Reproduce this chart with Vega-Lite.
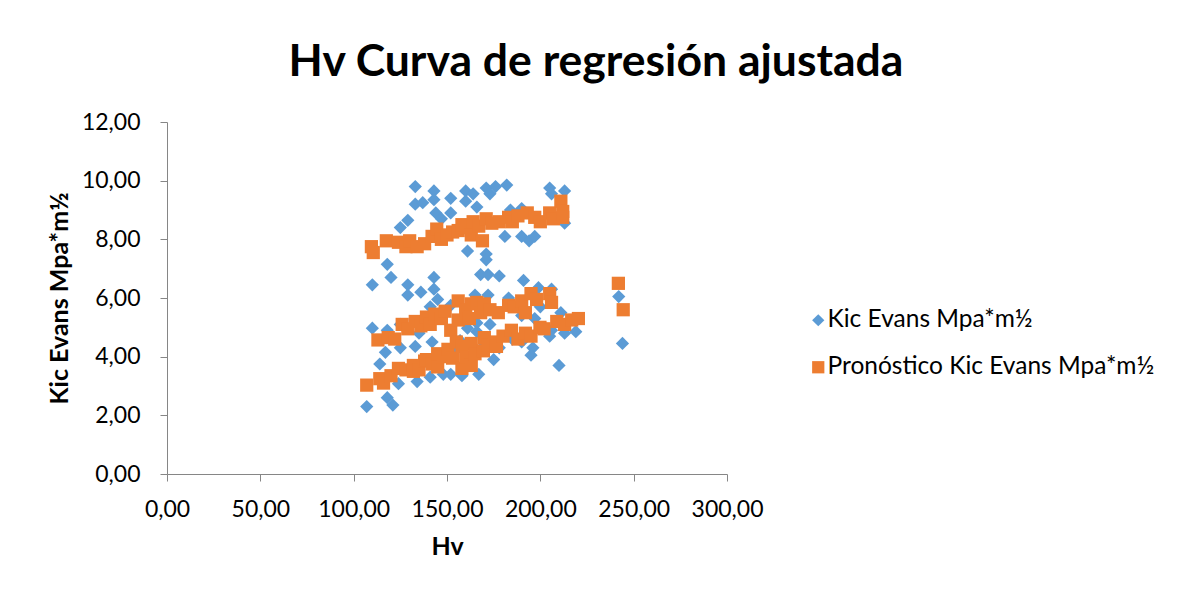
{
  "$schema": "https://vega.github.io/schema/vega-lite/v6.json",
  "width": 560,
  "height": 352,
  "autosize": {"type": "none"},
  "padding": {"left": 167, "top": 122, "right": 456, "bottom": 116},
  "background": "white",
  "title": {
    "text": "Hv Curva de regresión ajustada",
    "font": "Lato",
    "fontSize": 44.5,
    "fontWeight": "bold",
    "color": "black",
    "anchor": "middle",
    "dx": 149,
    "baseline": "alphabetic",
    "offset": -9
  },
  "data": {
    "values": [
      {"Hv": 133, "Kic": 9.8, "serie": "Kic Evans Mpa*m½"},
      {"Hv": 143, "Kic": 9.65, "serie": "Kic Evans Mpa*m½"},
      {"Hv": 143, "Kic": 9.35, "serie": "Kic Evans Mpa*m½"},
      {"Hv": 133, "Kic": 9.2, "serie": "Kic Evans Mpa*m½"},
      {"Hv": 137, "Kic": 9.25, "serie": "Kic Evans Mpa*m½"},
      {"Hv": 152, "Kic": 9.4, "serie": "Kic Evans Mpa*m½"},
      {"Hv": 160, "Kic": 9.65, "serie": "Kic Evans Mpa*m½"},
      {"Hv": 164, "Kic": 9.55, "serie": "Kic Evans Mpa*m½"},
      {"Hv": 160, "Kic": 9.3, "serie": "Kic Evans Mpa*m½"},
      {"Hv": 166, "Kic": 9.1, "serie": "Kic Evans Mpa*m½"},
      {"Hv": 144, "Kic": 8.9, "serie": "Kic Evans Mpa*m½"},
      {"Hv": 152, "Kic": 8.9, "serie": "Kic Evans Mpa*m½"},
      {"Hv": 129, "Kic": 8.65, "serie": "Kic Evans Mpa*m½"},
      {"Hv": 125, "Kic": 8.4, "serie": "Kic Evans Mpa*m½"},
      {"Hv": 147, "Kic": 8.7, "serie": "Kic Evans Mpa*m½"},
      {"Hv": 161, "Kic": 7.6, "serie": "Kic Evans Mpa*m½"},
      {"Hv": 171, "Kic": 9.75, "serie": "Kic Evans Mpa*m½"},
      {"Hv": 176, "Kic": 9.8, "serie": "Kic Evans Mpa*m½"},
      {"Hv": 182, "Kic": 9.85, "serie": "Kic Evans Mpa*m½"},
      {"Hv": 173, "Kic": 9.55, "serie": "Kic Evans Mpa*m½"},
      {"Hv": 205, "Kic": 9.75, "serie": "Kic Evans Mpa*m½"},
      {"Hv": 213, "Kic": 9.65, "serie": "Kic Evans Mpa*m½"},
      {"Hv": 206, "Kic": 9.55, "serie": "Kic Evans Mpa*m½"},
      {"Hv": 184, "Kic": 9.0, "serie": "Kic Evans Mpa*m½"},
      {"Hv": 190, "Kic": 9.05, "serie": "Kic Evans Mpa*m½"},
      {"Hv": 213, "Kic": 8.55, "serie": "Kic Evans Mpa*m½"},
      {"Hv": 181, "Kic": 8.1, "serie": "Kic Evans Mpa*m½"},
      {"Hv": 190, "Kic": 8.1, "serie": "Kic Evans Mpa*m½"},
      {"Hv": 194, "Kic": 7.95, "serie": "Kic Evans Mpa*m½"},
      {"Hv": 197, "Kic": 8.1, "serie": "Kic Evans Mpa*m½"},
      {"Hv": 171, "Kic": 7.5, "serie": "Kic Evans Mpa*m½"},
      {"Hv": 171, "Kic": 7.3, "serie": "Kic Evans Mpa*m½"},
      {"Hv": 168, "Kic": 6.8, "serie": "Kic Evans Mpa*m½"},
      {"Hv": 172, "Kic": 6.8, "serie": "Kic Evans Mpa*m½"},
      {"Hv": 178, "Kic": 6.75, "serie": "Kic Evans Mpa*m½"},
      {"Hv": 191, "Kic": 6.6, "serie": "Kic Evans Mpa*m½"},
      {"Hv": 199, "Kic": 6.35, "serie": "Kic Evans Mpa*m½"},
      {"Hv": 206, "Kic": 6.3, "serie": "Kic Evans Mpa*m½"},
      {"Hv": 118, "Kic": 7.15, "serie": "Kic Evans Mpa*m½"},
      {"Hv": 120, "Kic": 6.7, "serie": "Kic Evans Mpa*m½"},
      {"Hv": 110, "Kic": 6.45, "serie": "Kic Evans Mpa*m½"},
      {"Hv": 129, "Kic": 6.45, "serie": "Kic Evans Mpa*m½"},
      {"Hv": 129, "Kic": 6.1, "serie": "Kic Evans Mpa*m½"},
      {"Hv": 136, "Kic": 6.2, "serie": "Kic Evans Mpa*m½"},
      {"Hv": 143, "Kic": 6.7, "serie": "Kic Evans Mpa*m½"},
      {"Hv": 143, "Kic": 6.3, "serie": "Kic Evans Mpa*m½"},
      {"Hv": 145, "Kic": 5.95, "serie": "Kic Evans Mpa*m½"},
      {"Hv": 141, "Kic": 5.7, "serie": "Kic Evans Mpa*m½"},
      {"Hv": 152, "Kic": 5.75, "serie": "Kic Evans Mpa*m½"},
      {"Hv": 165, "Kic": 6.1, "serie": "Kic Evans Mpa*m½"},
      {"Hv": 168, "Kic": 5.75, "serie": "Kic Evans Mpa*m½"},
      {"Hv": 110, "Kic": 4.97, "serie": "Kic Evans Mpa*m½"},
      {"Hv": 118, "Kic": 4.9, "serie": "Kic Evans Mpa*m½"},
      {"Hv": 125, "Kic": 5.1, "serie": "Kic Evans Mpa*m½"},
      {"Hv": 117, "Kic": 4.15, "serie": "Kic Evans Mpa*m½"},
      {"Hv": 125, "Kic": 4.3, "serie": "Kic Evans Mpa*m½"},
      {"Hv": 133, "Kic": 4.35, "serie": "Kic Evans Mpa*m½"},
      {"Hv": 114, "Kic": 3.75, "serie": "Kic Evans Mpa*m½"},
      {"Hv": 124, "Kic": 3.08, "serie": "Kic Evans Mpa*m½"},
      {"Hv": 134, "Kic": 3.15, "serie": "Kic Evans Mpa*m½"},
      {"Hv": 141, "Kic": 3.3, "serie": "Kic Evans Mpa*m½"},
      {"Hv": 148, "Kic": 3.4, "serie": "Kic Evans Mpa*m½"},
      {"Hv": 152, "Kic": 3.4, "serie": "Kic Evans Mpa*m½"},
      {"Hv": 158, "Kic": 3.35, "serie": "Kic Evans Mpa*m½"},
      {"Hv": 167, "Kic": 3.4, "serie": "Kic Evans Mpa*m½"},
      {"Hv": 118, "Kic": 2.6, "serie": "Kic Evans Mpa*m½"},
      {"Hv": 121, "Kic": 2.35, "serie": "Kic Evans Mpa*m½"},
      {"Hv": 107, "Kic": 2.3, "serie": "Kic Evans Mpa*m½"},
      {"Hv": 142, "Kic": 4.5, "serie": "Kic Evans Mpa*m½"},
      {"Hv": 161, "Kic": 4.97, "serie": "Kic Evans Mpa*m½"},
      {"Hv": 166, "Kic": 4.85, "serie": "Kic Evans Mpa*m½"},
      {"Hv": 172, "Kic": 6.1, "serie": "Kic Evans Mpa*m½"},
      {"Hv": 183, "Kic": 6.0, "serie": "Kic Evans Mpa*m½"},
      {"Hv": 190, "Kic": 5.4, "serie": "Kic Evans Mpa*m½"},
      {"Hv": 197, "Kic": 5.3, "serie": "Kic Evans Mpa*m½"},
      {"Hv": 173, "Kic": 5.1, "serie": "Kic Evans Mpa*m½"},
      {"Hv": 166, "Kic": 5.15, "serie": "Kic Evans Mpa*m½"},
      {"Hv": 190, "Kic": 4.5, "serie": "Kic Evans Mpa*m½"},
      {"Hv": 196, "Kic": 4.3, "serie": "Kic Evans Mpa*m½"},
      {"Hv": 206, "Kic": 4.9, "serie": "Kic Evans Mpa*m½"},
      {"Hv": 213, "Kic": 4.8, "serie": "Kic Evans Mpa*m½"},
      {"Hv": 219, "Kic": 4.85, "serie": "Kic Evans Mpa*m½"},
      {"Hv": 210, "Kic": 3.7, "serie": "Kic Evans Mpa*m½"},
      {"Hv": 242, "Kic": 6.05, "serie": "Kic Evans Mpa*m½"},
      {"Hv": 244, "Kic": 4.45, "serie": "Kic Evans Mpa*m½"},
      {"Hv": 168, "Kic": 4.25, "serie": "Kic Evans Mpa*m½"},
      {"Hv": 178, "Kic": 4.3, "serie": "Kic Evans Mpa*m½"},
      {"Hv": 185, "Kic": 4.6, "serie": "Kic Evans Mpa*m½"},
      {"Hv": 153, "Kic": 4.2, "serie": "Kic Evans Mpa*m½"},
      {"Hv": 147, "Kic": 4.05, "serie": "Kic Evans Mpa*m½"},
      {"Hv": 162, "Kic": 3.7, "serie": "Kic Evans Mpa*m½"},
      {"Hv": 157, "Kic": 4.55, "serie": "Kic Evans Mpa*m½"},
      {"Hv": 135, "Kic": 4.8, "serie": "Kic Evans Mpa*m½"},
      {"Hv": 140, "Kic": 3.8, "serie": "Kic Evans Mpa*m½"},
      {"Hv": 175, "Kic": 3.9, "serie": "Kic Evans Mpa*m½"},
      {"Hv": 200, "Kic": 5.7, "serie": "Kic Evans Mpa*m½"},
      {"Hv": 211, "Kic": 5.5, "serie": "Kic Evans Mpa*m½"},
      {"Hv": 195, "Kic": 4.05, "serie": "Kic Evans Mpa*m½"},
      {"Hv": 205, "Kic": 4.7, "serie": "Kic Evans Mpa*m½"},
      {"Hv": 109.5, "Kic": 7.75, "serie": "Pronóstico Kic Evans Mpa*m½"},
      {"Hv": 110.5, "Kic": 7.55, "serie": "Pronóstico Kic Evans Mpa*m½"},
      {"Hv": 117.5, "Kic": 7.95, "serie": "Pronóstico Kic Evans Mpa*m½"},
      {"Hv": 124, "Kic": 7.9, "serie": "Pronóstico Kic Evans Mpa*m½"},
      {"Hv": 128, "Kic": 7.75, "serie": "Pronóstico Kic Evans Mpa*m½"},
      {"Hv": 130, "Kic": 7.95, "serie": "Pronóstico Kic Evans Mpa*m½"},
      {"Hv": 134, "Kic": 7.75, "serie": "Pronóstico Kic Evans Mpa*m½"},
      {"Hv": 138, "Kic": 7.85, "serie": "Pronóstico Kic Evans Mpa*m½"},
      {"Hv": 142, "Kic": 8.1, "serie": "Pronóstico Kic Evans Mpa*m½"},
      {"Hv": 144.5, "Kic": 8.35, "serie": "Pronóstico Kic Evans Mpa*m½"},
      {"Hv": 147, "Kic": 8.0, "serie": "Pronóstico Kic Evans Mpa*m½"},
      {"Hv": 150, "Kic": 8.15, "serie": "Pronóstico Kic Evans Mpa*m½"},
      {"Hv": 153, "Kic": 8.25, "serie": "Pronóstico Kic Evans Mpa*m½"},
      {"Hv": 156, "Kic": 8.3, "serie": "Pronóstico Kic Evans Mpa*m½"},
      {"Hv": 158, "Kic": 8.5, "serie": "Pronóstico Kic Evans Mpa*m½"},
      {"Hv": 161, "Kic": 8.4, "serie": "Pronóstico Kic Evans Mpa*m½"},
      {"Hv": 164, "Kic": 8.6, "serie": "Pronóstico Kic Evans Mpa*m½"},
      {"Hv": 163, "Kic": 8.15, "serie": "Pronóstico Kic Evans Mpa*m½"},
      {"Hv": 167, "Kic": 8.45, "serie": "Pronóstico Kic Evans Mpa*m½"},
      {"Hv": 169, "Kic": 7.95, "serie": "Pronóstico Kic Evans Mpa*m½"},
      {"Hv": 171, "Kic": 8.7, "serie": "Pronóstico Kic Evans Mpa*m½"},
      {"Hv": 174, "Kic": 8.55, "serie": "Pronóstico Kic Evans Mpa*m½"},
      {"Hv": 178, "Kic": 8.6, "serie": "Pronóstico Kic Evans Mpa*m½"},
      {"Hv": 183, "Kic": 8.75, "serie": "Pronóstico Kic Evans Mpa*m½"},
      {"Hv": 185, "Kic": 8.6, "serie": "Pronóstico Kic Evans Mpa*m½"},
      {"Hv": 188, "Kic": 8.8, "serie": "Pronóstico Kic Evans Mpa*m½"},
      {"Hv": 193, "Kic": 8.9, "serie": "Pronóstico Kic Evans Mpa*m½"},
      {"Hv": 197, "Kic": 8.75, "serie": "Pronóstico Kic Evans Mpa*m½"},
      {"Hv": 200, "Kic": 8.6, "serie": "Pronóstico Kic Evans Mpa*m½"},
      {"Hv": 205, "Kic": 8.9, "serie": "Pronóstico Kic Evans Mpa*m½"},
      {"Hv": 207, "Kic": 8.7, "serie": "Pronóstico Kic Evans Mpa*m½"},
      {"Hv": 211, "Kic": 9.3, "serie": "Pronóstico Kic Evans Mpa*m½"},
      {"Hv": 212, "Kic": 8.95, "serie": "Pronóstico Kic Evans Mpa*m½"},
      {"Hv": 212, "Kic": 8.75, "serie": "Pronóstico Kic Evans Mpa*m½"},
      {"Hv": 113, "Kic": 4.57, "serie": "Pronóstico Kic Evans Mpa*m½"},
      {"Hv": 118.5, "Kic": 4.65, "serie": "Pronóstico Kic Evans Mpa*m½"},
      {"Hv": 122, "Kic": 4.6, "serie": "Pronóstico Kic Evans Mpa*m½"},
      {"Hv": 126, "Kic": 5.1, "serie": "Pronóstico Kic Evans Mpa*m½"},
      {"Hv": 129, "Kic": 4.95, "serie": "Pronóstico Kic Evans Mpa*m½"},
      {"Hv": 133, "Kic": 5.2, "serie": "Pronóstico Kic Evans Mpa*m½"},
      {"Hv": 136, "Kic": 5.05, "serie": "Pronóstico Kic Evans Mpa*m½"},
      {"Hv": 139, "Kic": 5.35, "serie": "Pronóstico Kic Evans Mpa*m½"},
      {"Hv": 141, "Kic": 5.1, "serie": "Pronóstico Kic Evans Mpa*m½"},
      {"Hv": 143.5, "Kic": 5.45, "serie": "Pronóstico Kic Evans Mpa*m½"},
      {"Hv": 147, "Kic": 5.3, "serie": "Pronóstico Kic Evans Mpa*m½"},
      {"Hv": 149, "Kic": 5.55, "serie": "Pronóstico Kic Evans Mpa*m½"},
      {"Hv": 152, "Kic": 4.9, "serie": "Pronóstico Kic Evans Mpa*m½"},
      {"Hv": 156, "Kic": 5.25, "serie": "Pronóstico Kic Evans Mpa*m½"},
      {"Hv": 156, "Kic": 5.9, "serie": "Pronóstico Kic Evans Mpa*m½"},
      {"Hv": 160, "Kic": 5.6, "serie": "Pronóstico Kic Evans Mpa*m½"},
      {"Hv": 162, "Kic": 5.3, "serie": "Pronóstico Kic Evans Mpa*m½"},
      {"Hv": 163, "Kic": 5.8, "serie": "Pronóstico Kic Evans Mpa*m½"},
      {"Hv": 166, "Kic": 5.85, "serie": "Pronóstico Kic Evans Mpa*m½"},
      {"Hv": 168, "Kic": 5.5, "serie": "Pronóstico Kic Evans Mpa*m½"},
      {"Hv": 170, "Kic": 5.8, "serie": "Pronóstico Kic Evans Mpa*m½"},
      {"Hv": 173, "Kic": 5.6, "serie": "Pronóstico Kic Evans Mpa*m½"},
      {"Hv": 177.5, "Kic": 5.5, "serie": "Pronóstico Kic Evans Mpa*m½"},
      {"Hv": 183, "Kic": 5.75, "serie": "Pronóstico Kic Evans Mpa*m½"},
      {"Hv": 186, "Kic": 5.7, "serie": "Pronóstico Kic Evans Mpa*m½"},
      {"Hv": 190, "Kic": 5.9, "serie": "Pronóstico Kic Evans Mpa*m½"},
      {"Hv": 192, "Kic": 5.5, "serie": "Pronóstico Kic Evans Mpa*m½"},
      {"Hv": 195, "Kic": 6.15, "serie": "Pronóstico Kic Evans Mpa*m½"},
      {"Hv": 198, "Kic": 5.95, "serie": "Pronóstico Kic Evans Mpa*m½"},
      {"Hv": 205, "Kic": 6.15, "serie": "Pronóstico Kic Evans Mpa*m½"},
      {"Hv": 206, "Kic": 5.85, "serie": "Pronóstico Kic Evans Mpa*m½"},
      {"Hv": 241.8, "Kic": 6.5, "serie": "Pronóstico Kic Evans Mpa*m½"},
      {"Hv": 107, "Kic": 3.03, "serie": "Pronóstico Kic Evans Mpa*m½"},
      {"Hv": 114, "Kic": 3.25, "serie": "Pronóstico Kic Evans Mpa*m½"},
      {"Hv": 116, "Kic": 3.1, "serie": "Pronóstico Kic Evans Mpa*m½"},
      {"Hv": 120, "Kic": 3.35, "serie": "Pronóstico Kic Evans Mpa*m½"},
      {"Hv": 124, "Kic": 3.6, "serie": "Pronóstico Kic Evans Mpa*m½"},
      {"Hv": 128, "Kic": 3.55, "serie": "Pronóstico Kic Evans Mpa*m½"},
      {"Hv": 132, "Kic": 3.7, "serie": "Pronóstico Kic Evans Mpa*m½"},
      {"Hv": 132, "Kic": 3.5, "serie": "Pronóstico Kic Evans Mpa*m½"},
      {"Hv": 135, "Kic": 3.55, "serie": "Pronóstico Kic Evans Mpa*m½"},
      {"Hv": 138, "Kic": 3.85, "serie": "Pronóstico Kic Evans Mpa*m½"},
      {"Hv": 139, "Kic": 3.9, "serie": "Pronóstico Kic Evans Mpa*m½"},
      {"Hv": 142, "Kic": 3.75, "serie": "Pronóstico Kic Evans Mpa*m½"},
      {"Hv": 145, "Kic": 4.1, "serie": "Pronóstico Kic Evans Mpa*m½"},
      {"Hv": 145, "Kic": 3.65, "serie": "Pronóstico Kic Evans Mpa*m½"},
      {"Hv": 148, "Kic": 4.0, "serie": "Pronóstico Kic Evans Mpa*m½"},
      {"Hv": 150.5, "Kic": 4.25, "serie": "Pronóstico Kic Evans Mpa*m½"},
      {"Hv": 153, "Kic": 3.95, "serie": "Pronóstico Kic Evans Mpa*m½"},
      {"Hv": 155, "Kic": 4.5, "serie": "Pronóstico Kic Evans Mpa*m½"},
      {"Hv": 158, "Kic": 4.35, "serie": "Pronóstico Kic Evans Mpa*m½"},
      {"Hv": 158, "Kic": 3.6, "serie": "Pronóstico Kic Evans Mpa*m½"},
      {"Hv": 160, "Kic": 4.0, "serie": "Pronóstico Kic Evans Mpa*m½"},
      {"Hv": 163, "Kic": 4.45, "serie": "Pronóstico Kic Evans Mpa*m½"},
      {"Hv": 163, "Kic": 3.7, "serie": "Pronóstico Kic Evans Mpa*m½"},
      {"Hv": 165, "Kic": 4.1, "serie": "Pronóstico Kic Evans Mpa*m½"},
      {"Hv": 169.5, "Kic": 4.2, "serie": "Pronóstico Kic Evans Mpa*m½"},
      {"Hv": 170, "Kic": 4.65, "serie": "Pronóstico Kic Evans Mpa*m½"},
      {"Hv": 172, "Kic": 4.4, "serie": "Pronóstico Kic Evans Mpa*m½"},
      {"Hv": 175.5, "Kic": 4.5, "serie": "Pronóstico Kic Evans Mpa*m½"},
      {"Hv": 176.5, "Kic": 4.35, "serie": "Pronóstico Kic Evans Mpa*m½"},
      {"Hv": 180, "Kic": 4.7, "serie": "Pronóstico Kic Evans Mpa*m½"},
      {"Hv": 184.5, "Kic": 4.9, "serie": "Pronóstico Kic Evans Mpa*m½"},
      {"Hv": 188, "Kic": 4.6, "serie": "Pronóstico Kic Evans Mpa*m½"},
      {"Hv": 192, "Kic": 4.8, "serie": "Pronóstico Kic Evans Mpa*m½"},
      {"Hv": 195, "Kic": 4.7, "serie": "Pronóstico Kic Evans Mpa*m½"},
      {"Hv": 199.8, "Kic": 5.0, "serie": "Pronóstico Kic Evans Mpa*m½"},
      {"Hv": 202, "Kic": 4.95, "serie": "Pronóstico Kic Evans Mpa*m½"},
      {"Hv": 208.8, "Kic": 5.2, "serie": "Pronóstico Kic Evans Mpa*m½"},
      {"Hv": 213, "Kic": 5.1, "serie": "Pronóstico Kic Evans Mpa*m½"},
      {"Hv": 216.8, "Kic": 5.25, "serie": "Pronóstico Kic Evans Mpa*m½"},
      {"Hv": 220.4, "Kic": 5.3, "serie": "Pronóstico Kic Evans Mpa*m½"},
      {"Hv": 244.4, "Kic": 5.6, "serie": "Pronóstico Kic Evans Mpa*m½"}
    ]
  },
  "mark": {"type": "point", "filled": true, "opacity": 1, "size": 175, "strokeWidth": 0},
  "encoding": {
    "x": {
      "field": "Hv",
      "type": "quantitative",
      "scale": {"domain": [0, 300], "nice": false, "zero": true},
      "axis": {
        "title": "Hv",
        "values": [0, 50, 100, 150, 200, 250, 300],
        "labelExpr": "replace(format(datum.value, '.2f'), '.', ',')",
        "labelFlush": false,
        "grid": false,
        "domainColor": "#868686",
        "tickColor": "#868686",
        "tickSize": 7,
        "labelPadding": 17,
        "labelFont": "Lato",
        "labelFontSize": 23,
        "labelColor": "black",
        "titleFont": "Lato",
        "titleFontSize": 25,
        "titleFontWeight": "bold",
        "titleColor": "black",
        "titlePadding": 13
      }
    },
    "y": {
      "field": "Kic",
      "type": "quantitative",
      "scale": {"domain": [0, 12], "nice": false},
      "axis": {
        "title": "Kic Evans Mpa*m½",
        "values": [0, 2, 4, 6, 8, 10, 12],
        "labelExpr": "replace(format(datum.value, '.2f'), '.', ',')",
        "labelFlush": false,
        "grid": false,
        "domainColor": "#868686",
        "tickColor": "#868686",
        "tickSize": 7,
        "labelPadding": 20,
        "labelFont": "Lato",
        "labelFontSize": 23,
        "labelColor": "black",
        "titleFont": "Lato",
        "titleFontSize": 25,
        "titleFontWeight": "bold",
        "titleColor": "black",
        "titlePadding": 9
      }
    },
    "color": {
      "field": "serie",
      "type": "nominal",
      "scale": {"domain": ["Kic Evans Mpa*m½", "Pronóstico Kic Evans Mpa*m½"], "range": ["#5B9BD5", "#ED7D31"]},
      "legend": {
        "title": null,
        "orient": "none",
        "legendX": 639,
        "legendY": 186,
        "labelFont": "Lato",
        "labelFontSize": 24.5,
        "labelColor": "black",
        "labelLimit": 400,
        "symbolSize": 150,
        "symbolStrokeWidth": 0,
        "rowPadding": 22,
        "labelOffset": -3
      }
    },
    "shape": {
      "field": "serie",
      "type": "nominal",
      "scale": {"domain": ["Kic Evans Mpa*m½", "Pronóstico Kic Evans Mpa*m½"], "range": ["diamond", "square"]}
    }
  },
  "config": {"view": {"stroke": null}}
}
